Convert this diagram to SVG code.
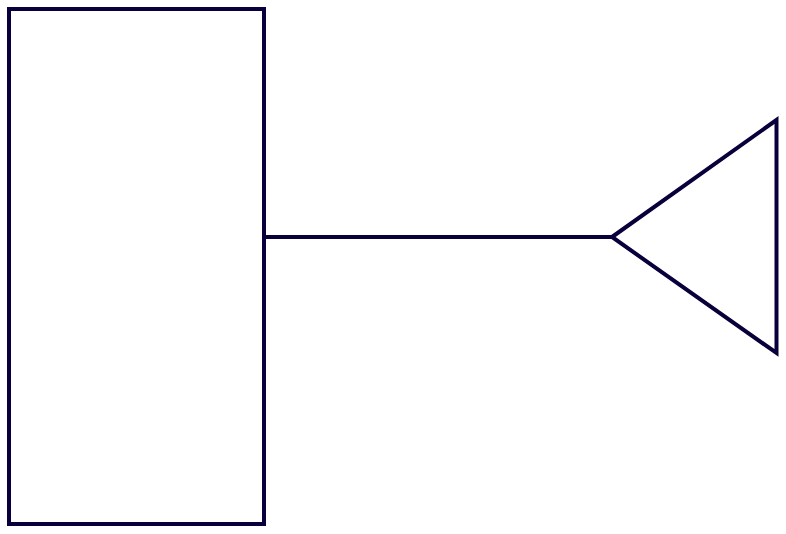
<svg xmlns="http://www.w3.org/2000/svg" width="786" height="534" viewBox="0 0 786 534">
<style>.s{fill:none;stroke:#08003a;stroke-width:4;stroke-linejoin:miter}</style>
<rect width="786" height="534" fill="#ffffff"/>
<g id="connectors"><line class="s" x1="264" y1="237" x2="612" y2="237"/></g>
<g id="node-rect"><rect class="s" x="9" y="9" width="255" height="515"/></g>
<g id="node-triangle"><polygon class="s" points="612,237 776.5,120 776.5,353"/></g>
</svg>
